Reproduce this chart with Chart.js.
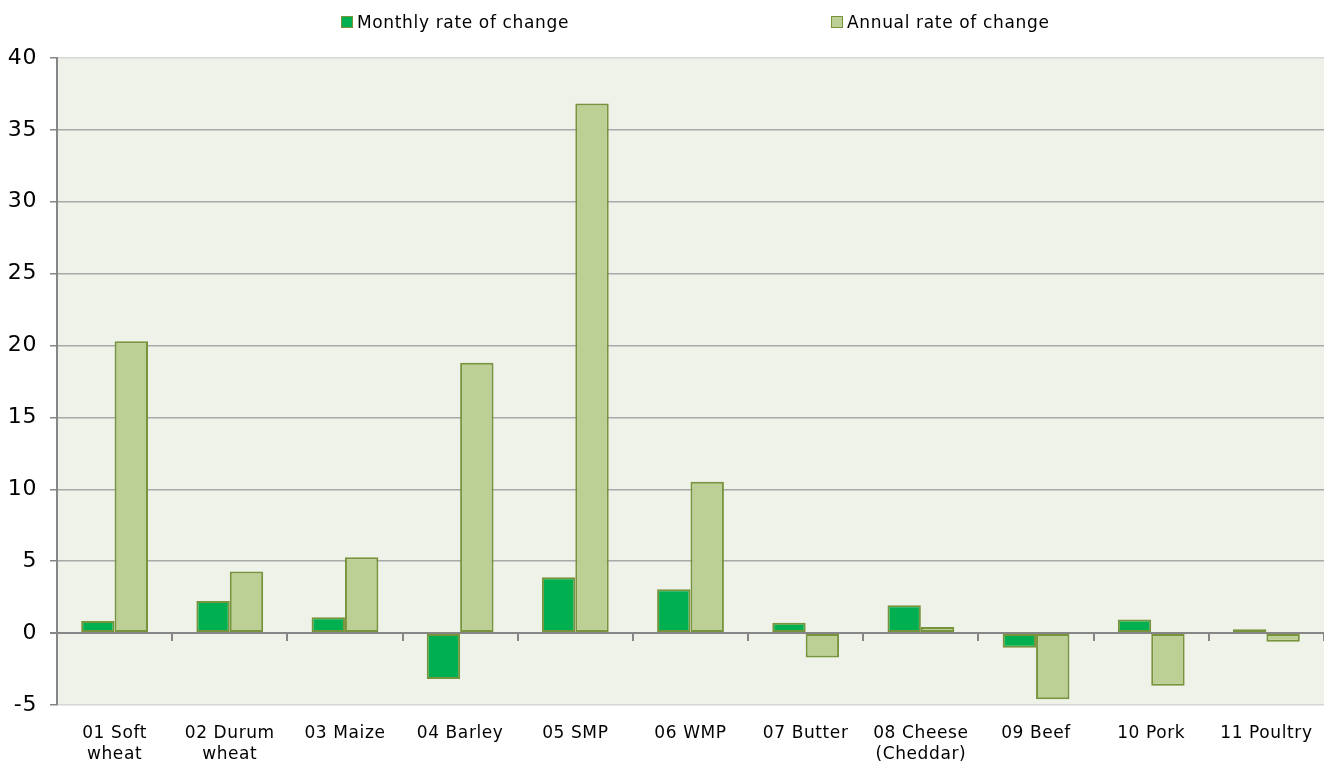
<!DOCTYPE html>
<html>
<head>
<meta charset="utf-8">
<script src="https://cdn.jsdelivr.net/npm/chart.js@4"></script>
<style>
  html, body { margin: 0; padding: 0; background: #fff; }
  #wrap { position: relative; width: 1324px; height: 762px; }
  #legend {
    position: absolute; top: 12px; left: 341px;
    display: flex; font-family: "DejaVu Sans", Verdana, sans-serif;
    font-size: 17px; letter-spacing: 0.65px; color: #000;
  }
  #legend .item { display: flex; align-items: center; }
  #legend .item + .item { margin-left: 262px; }
  #legend .box { width: 10px; height: 10px; border: 1px solid #77933c; margin-right: 4px; }
</style>
</head>
<body>
<div id="wrap">
  <div id="legend"></div>
  <canvas id="barChart" width="1324" height="762"></canvas>
</div>
<script>
let categories = [
  ["01 Soft", "wheat"],
  ["02 Durum", "wheat"],
  "03 Maize",
  "04 Barley",
  "05 SMP",
  "06 WMP",
  "07 Butter",
  ["08 Cheese", "(Cheddar)"],
  "09 Beef",
  "10 Pork",
  "11 Poultry",
];
let monthly = [0.84, 2.24, 1.11, -3.2, 3.88, 3.05, 0.72, 1.94, -1.02, 0.95, 0.26];
let annual = [20.3, 4.28, 5.27, 18.8, 36.83, 10.53, -1.7, 0.42, -4.6, -3.66, -0.6];
let yTicks = [-5, 0, 5, 10, 15, 20, 25, 30, 35, 40];

// fond de la zone de tracé
const plotBackground = {
  id: "plotBackground",
  beforeDraw(chart) {
    const { ctx, chartArea } = chart;
    ctx.save();
    ctx.fillStyle = "#eff2e9";
    ctx.fillRect(chartArea.left, chartArea.top, chartArea.right - chartArea.left, chartArea.bottom - chartArea.top);
    ctx.restore();
  },
};

// espacement des lettres (texte un peu plus large, comme l'original)
const spacing = {
  id: "spacing",
  beforeUpdate(chart) {
    chart.ctx.letterSpacing = "0.6px";
  },
  beforeRender(chart) {
    chart.ctx.letterSpacing = "0.6px";
  },
};

let chart = new Chart(document.getElementById("barChart"), {
  type: "bar",
  data: {
    labels: categories,
    datasets: [
      {
        label: "Monthly rate of change",
        data: monthly,
        backgroundColor: "#00b050",
        borderColor: "#77933c",
        borderWidth: 2,
        borderSkipped: false,
      },
      {
        label: "Annual rate of change",
        data: annual,
        backgroundColor: "#bcd096",
        borderColor: "#77933c",
        borderWidth: 2,
        borderSkipped: false,
      },
    ],
  },
  options: {
    responsive: false,
    animation: false,
    categoryPercentage: 0.58,
    barPercentage: 1,
    layout: { padding: { top: 58, left: 0, right: 0, bottom: 0 } },
    plugins: {
      legend: { display: false },
      tooltip: { enabled: false },
    },
    scales: {
      x: {
        position: "bottom",
        grid: { display: false },
        border: { display: false },
        ticks: {
          color: "#000",
          padding: 10,
          maxRotation: 0,
          autoSkip: false,
          font: { family: "'DejaVu Sans', Verdana, sans-serif", size: 17, lineHeight: 1.25 },
        },
        afterFit(scale) {
          scale.height = 57;
        },
      },
      // axe horizontal à zéro avec graduations entre catégories
      x2: {
        type: "category",
        position: { y: 0 },
        offset: true,
        grid: { offset: true, drawOnChartArea: false, tickLength: 7, color: "#868686", lineWidth: 2 },
        border: { color: "#868686", width: 2 },
        ticks: { display: false },
        afterFit(scale) {
          scale.height = 0;
        },
      },
      y: {
        min: -5,
        max: 40,
        afterBuildTicks(scale) {
          scale.ticks = yTicks.map((v) => ({ value: v }));
        },
        afterFit(scale) {
          scale.width = 57;
        },
        border: { color: "#868686", width: 2 },
        grid: {
          tickLength: 7,
          tickColor: "#868686",
          color(ctx) {
            const v = ctx.tick && ctx.tick.value;
            if (v === 0) return "#868686";
            if (v === 40 || v === -5) return "#d6d6d6";
            return "#a8a8a8";
          },
          lineWidth(ctx) {
            return ctx.tick && ctx.tick.value === 0 ? 2 : 1.5;
          },
        },
        ticks: {
          color: "#000",
          padding: 13,
          font: { family: "'DejaVu Sans', Verdana, sans-serif", size: 22 },
        },
      },
    },
  },
  plugins: [plotBackground, spacing],
});

// légende HTML
let legendBox = document.getElementById("legend");
chart.data.datasets.forEach((ds) => {
  let item = document.createElement("div");
  item.className = "item";
  let box = document.createElement("span");
  box.className = "box";
  box.style.background = ds.backgroundColor;
  let txt = document.createElement("span");
  txt.textContent = ds.label;
  item.appendChild(box);
  item.appendChild(txt);
  legendBox.appendChild(item);
});
</script>
</body>
</html>
